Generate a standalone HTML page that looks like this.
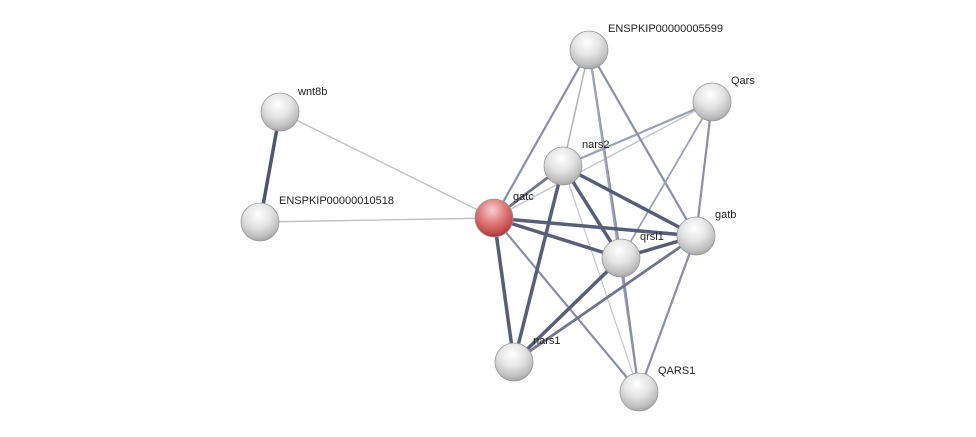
<!DOCTYPE html>
<html><head><meta charset="utf-8"><style>html,body{margin:0;padding:0;background:#fff;}svg{display:block}</style></head>
<body>
<svg width="976" height="437" viewBox="0 0 976 437" xmlns="http://www.w3.org/2000/svg" font-family="Liberation Sans, sans-serif" font-size="11">
<defs>
<radialGradient id="g" cx="0.45" cy="0.3" r="0.75">
<stop offset="0" stop-color="#ffffff"/><stop offset="0.45" stop-color="#e4e4e4"/><stop offset="0.8" stop-color="#bdbdbd"/><stop offset="1" stop-color="#9a9a9a"/>
</radialGradient>
<radialGradient id="r" cx="0.45" cy="0.3" r="0.75">
<stop offset="0" stop-color="#f6d0d0"/><stop offset="0.45" stop-color="#e07c7c"/><stop offset="0.8" stop-color="#c44a4a"/><stop offset="1" stop-color="#8c2a2a"/>
</radialGradient>
</defs>
<g stroke-linecap="round">
<line x1="280" y1="112" x2="260" y2="222" stroke="#4e5670" stroke-width="3.5"/>
<line x1="280" y1="112" x2="494" y2="218" stroke="#bfc0c8" stroke-width="1.4"/>
<line x1="260" y1="222" x2="494" y2="218" stroke="#bfc0c8" stroke-width="1.4"/>
<line x1="494" y1="218" x2="712" y2="102" stroke="#c4c6d0" stroke-width="1.4"/>
<line x1="563" y1="166" x2="639" y2="392" stroke="#c4c6d0" stroke-width="1.2"/>
<line x1="563" y1="166" x2="712" y2="102" stroke="#9ca0b4" stroke-width="2.2"/>
<line x1="563" y1="166" x2="589" y2="50" stroke="#aeb1c2" stroke-width="1.5"/>
<line x1="494" y1="218" x2="589" y2="50" stroke="#8a8ea6" stroke-width="2.2"/>
<line x1="494" y1="218" x2="639" y2="392" stroke="#8a8ea6" stroke-width="2.2"/>
<line x1="589" y1="50" x2="621" y2="258" stroke="#8a8ea6" stroke-width="2.2"/>
<line x1="589" y1="50" x2="696" y2="236" stroke="#8a8ea6" stroke-width="2.2"/>
<line x1="589" y1="50" x2="639" y2="392" stroke="#a0a4b8" stroke-width="1.8"/>
<line x1="712" y1="102" x2="621" y2="258" stroke="#9ca0b4" stroke-width="1.8"/>
<line x1="712" y1="102" x2="696" y2="236" stroke="#8a8ea6" stroke-width="2.2"/>
<line x1="696" y1="236" x2="639" y2="392" stroke="#8a8ea6" stroke-width="2.2"/>
<line x1="621" y1="258" x2="639" y2="392" stroke="#8a8ea6" stroke-width="2.2"/>
<line x1="696" y1="236" x2="514" y2="362" stroke="#6f758e" stroke-width="2.8"/>
<line x1="494" y1="218" x2="563" y2="166" stroke="#6f758e" stroke-width="2.8"/>
<line x1="494" y1="218" x2="696" y2="236" stroke="#575e78" stroke-width="3.5"/>
<line x1="494" y1="218" x2="621" y2="258" stroke="#575e78" stroke-width="3.5"/>
<line x1="494" y1="218" x2="514" y2="362" stroke="#575e78" stroke-width="3.5"/>
<line x1="563" y1="166" x2="696" y2="236" stroke="#575e78" stroke-width="3.5"/>
<line x1="563" y1="166" x2="621" y2="258" stroke="#575e78" stroke-width="3.5"/>
<line x1="563" y1="166" x2="514" y2="362" stroke="#575e78" stroke-width="3.5"/>
<line x1="621" y1="258" x2="696" y2="236" stroke="#575e78" stroke-width="3.5"/>
<line x1="621" y1="258" x2="514" y2="362" stroke="#575e78" stroke-width="3.5"/>
</g>
<g stroke="#999" stroke-width="0.8">
<circle cx="589" cy="50" r="19" fill="url(#g)"/>
<circle cx="712" cy="102" r="19" fill="url(#g)"/>
<circle cx="280" cy="112" r="19" fill="url(#g)"/>
<circle cx="260" cy="222" r="19" fill="url(#g)"/>
<circle cx="563" cy="166" r="19" fill="url(#g)"/>
<circle cx="494" cy="218" r="19" fill="url(#r)"/>
<circle cx="696" cy="236" r="19" fill="url(#g)"/>
<circle cx="621" cy="258" r="19" fill="url(#g)"/>
<circle cx="514" cy="362" r="19" fill="url(#g)"/>
<circle cx="639" cy="392" r="19" fill="url(#g)"/>
</g>
<g fill="#222">
<text x="608" y="32">ENSPKIP00000005599</text>
<text x="731" y="84">Qars</text>
<text x="298" y="95">wnt8b</text>
<text x="279" y="204">ENSPKIP00000010518</text>
<text x="582" y="148">nars2</text>
<text x="513" y="200">gatc</text>
<text x="715" y="218">gatb</text>
<text x="640" y="240">qrsl1</text>
<text x="533" y="344">nars1</text>
<text x="658" y="374">QARS1</text>
</g>
</svg>
</body></html>
